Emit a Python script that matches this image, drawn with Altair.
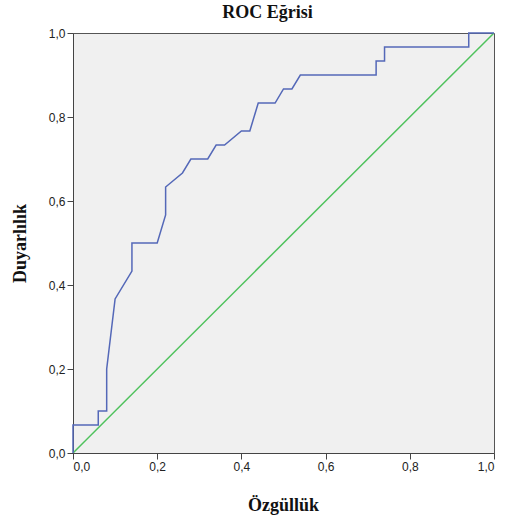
import altair as alt
import pandas as pd

# ROC curve points (1 - specificity, sensitivity)
fpr = [0.0, 0.0, 0.06, 0.06, 0.08, 0.08, 0.10, 0.14, 0.14, 0.20, 0.22, 0.22,
       0.26, 0.28, 0.32, 0.34, 0.36, 0.40, 0.42, 0.44, 0.48, 0.50, 0.52, 0.54,
       0.72, 0.72, 0.74, 0.74, 0.94, 0.94, 1.0]
tpr = [0.0, 0.0667, 0.0667, 0.1, 0.1, 0.2, 0.3667, 0.4333, 0.5, 0.5, 0.5667, 0.6333,
       0.6667, 0.7, 0.7, 0.7333, 0.7333, 0.7667, 0.7667, 0.8333, 0.8333, 0.8667, 0.8667, 0.9,
       0.9, 0.9333, 0.9333, 0.9667, 0.9667, 1.0, 1.0]

# Reference (chance) diagonal
ref_x = [0.0, 1.0]
ref_y = [0.0, 1.0]

roc = pd.DataFrame({"x": fpr, "y": tpr, "i": list(range(len(fpr)))})
ref = pd.DataFrame({"x": ref_x, "y": ref_y, "i": [0, 1]})

label_expr = "replace(format(datum.value, '.1f'), '.', ',')"
ticks = [0.0, 0.2, 0.4, 0.6, 0.8, 1.0]

x_enc = alt.X(
    "x:Q",
    scale=alt.Scale(domain=[0, 1], nice=False),
    axis=alt.Axis(
        title="Özgüllük", values=ticks, labelExpr=label_expr,
        titleX=210, titleY=52, titleBaseline="middle", titleAlign="center",
    ),
)
y_enc = alt.Y(
    "y:Q",
    scale=alt.Scale(domain=[0, 1], nice=False),
    axis=alt.Axis(
        title="Duyarlılık", values=ticks, labelExpr=label_expr,
        titleX=-53, titleY=210, titleBaseline="middle", titleAlign="center",
    ),
)

diag = alt.Chart(ref).mark_line(color="#4fc25d", strokeWidth=1.5, clip=True).encode(
    x=x_enc, y=y_enc, order="i:Q"
)
curve = alt.Chart(roc).mark_line(color="#5468b8", strokeWidth=1.5).encode(
    x=x_enc, y=y_enc, order="i:Q"
)

chart = (
    alt.layer(diag, curve)
    .properties(
        width=421,
        height=420,
        padding={"left": 73, "top": 33, "right": 18, "bottom": 70},
        autosize=alt.AutoSizeParams(type="none"),
        title=alt.TitleParams(
            "ROC Eğrisi", font="Liberation Serif", fontSize=18, fontWeight="bold",
            color="#111111", anchor="middle", dx=-16, offset=5,
        ),
        background="white",
    )
    .configure_view(fill="#f0f0f0", stroke="#555555", strokeWidth=1)
    .configure_axis(
        grid=False,
        domainColor="#444444",
        tickColor="#444444",
        tickSize=6,
        labelFont="Liberation Sans",
        labelFontSize=12,
        labelColor="#222222",
        labelPadding=2,
        titleFont="Liberation Serif",
        titleFontSize=18,
        titleFontWeight="bold",
        titleColor="#111111",
    )
)

chart.save("out.html", embed_options={"renderer": "svg", "actions": False})
